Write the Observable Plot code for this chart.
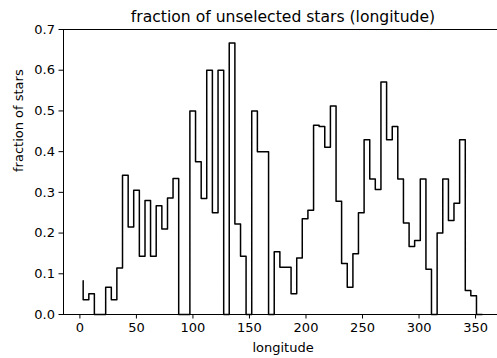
<!DOCTYPE html>
<html>
<head>
<meta charset="utf-8">
<script src="https://cdn.jsdelivr.net/npm/d3@7"></script>
<script src="https://cdn.jsdelivr.net/npm/@observablehq/plot@0.6"></script>
<style>
  html, body { margin: 0; padding: 0; background: #fff; }
</style>
</head>
<body>
<div id="chart"></div>
<script>
// Step points (matplotlib step, where="pre"): value y[i] spans (x[i-1], x[i]]
const longitude = [
  2.9, 7.9, 12.8, 17.8, 22.8, 27.8, 32.7, 37.7, 42.7, 47.6,
  52.6, 57.6, 62.5, 67.5, 72.5, 77.5, 82.4, 87.4, 92.4, 97.3,
  102.3, 107.3, 112.2, 117.2, 122.2, 127.2, 132.1, 137.1, 142.1, 147.0,
  152.0, 157.0, 161.9, 166.9, 171.9, 176.9, 181.8, 186.8, 191.8, 196.7,
  201.7, 206.7, 211.6, 216.6, 221.6, 226.6, 231.5, 236.5, 241.5, 246.4,
  251.4, 256.4, 261.3, 266.3, 271.3, 276.3, 281.2, 286.2, 291.2, 296.1,
  301.1, 306.1, 311.0, 316.0, 321.0, 326.0, 330.9, 335.9, 340.9, 345.8,
  350.8, 355.8
];
const fraction = [
  0.083, 0.036, 0.051, 0, 0, 0.067, 0.036, 0.114, 0.342, 0.215,
  0.305, 0.143, 0.280, 0.143, 0.267, 0.210, 0.286, 0.334, 0, 0,
  0.5, 0.375, 0.285, 0.6, 0.25, 0.6, 0, 0.667, 0.222, 0.143,
  0, 0.5, 0.4, 0.4, 0, 0.154, 0.116, 0.116, 0.051, 0.139,
  0.235, 0.256, 0.465, 0.462, 0.411, 0.512, 0.278, 0.125, 0.067, 0.149,
  0.25, 0.429, 0.333, 0.307, 0.571, 0.429, 0.462, 0.333, 0.225, 0.167,
  0.182, 0.333, 0.111, 0, 0.2, 0.333, 0.231, 0.273, 0.429, 0.059,
  0.046, 0
];
const xTicks = [0, 50, 100, 150, 200, 250, 300, 350];
const yTicks = [0, 0.1, 0.2, 0.3, 0.4, 0.5, 0.6, 0.7];
const titleText = "fraction of unselected stars (longitude)";
const xLabel = "longitude";
const yLabel = "fraction of stars";

const data = longitude.map((x, i) => ({x, y: fraction[i]}));
const xDomain = [-14.5, 369.4];

const chart = Plot.plot({
  width: 497,
  height: 358,
  marginLeft: 63,
  marginRight: 0,
  marginTop: 29,
  marginBottom: 44,
  style: {fontFamily: "DejaVu Sans", background: "white", color: "black"},
  x: {domain: xDomain},
  y: {domain: [0, 0.7]},
  marks: [
    Plot.axisX({ticks: xTicks, tickSize: 4.5, tickPadding: 4, fontSize: 13, label: null, tickFormat: d3.format("d")}),
    Plot.axisY({ticks: yTicks, tickSize: 4.5, tickPadding: 4, fontSize: 13, label: null, tickFormat: d3.format(".1f")}),
    Plot.line(data, {x: "x", y: "y", curve: "step-before", stroke: "black", strokeWidth: 1.5}),
    Plot.ruleX([xDomain[0]], {stroke: "black", strokeWidth: 1}),
    Plot.ruleY([0, 0.7], {stroke: "black", strokeWidth: 1}),
    Plot.text([titleText], {frameAnchor: "top", dx: 2.5, dy: -8, lineAnchor: "bottom", fontSize: 15.6, fill: "black"}),
    Plot.text([xLabel], {frameAnchor: "bottom", dx: 2.5, dy: 33, lineAnchor: "middle", fontSize: 13, fill: "black"}),
    Plot.text([yLabel], {frameAnchor: "left", dx: -45, rotate: -90, lineAnchor: "middle", fontSize: 13, fill: "black"})
  ]
});
document.getElementById("chart").appendChild(chart);
</script>
</body>
</html>
